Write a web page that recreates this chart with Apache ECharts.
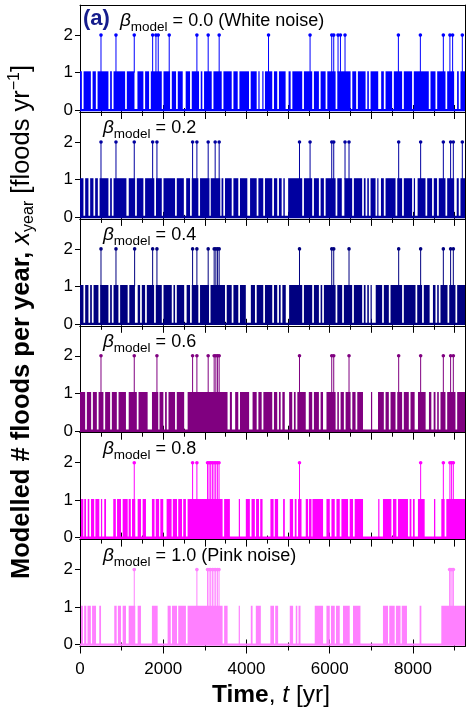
<!DOCTYPE html>
<html>
<head>
<meta charset="utf-8">
<script src="https://cdn.jsdelivr.net/npm/echarts@6/dist/echarts.min.js"></script>
<style>
  html, body { margin: 0; padding: 0; background: #fff; }
  #chart { width: 466px; height: 711px; }
</style>
</head>
<body>
<div id="chart"></div>
<script>
// ---- record length and panel settings ----
const recordEnd = 9250;                        // last simulated year
const betaValues = ['0.0', '0.2', '0.4', '0.6', '0.8', '1.0'];
const panelNotes = [' (White noise)', '', '', '', '', ' (Pink noise)'];
const panelColors = ['#0000ff', '#0000a0', '#000080', '#800080', '#ff00ff', '#ff80ff'];

// ---- tick labels ----
const xTickLabels = [0, 2000, 4000, 6000, 8000];
const xOddThousands = [1000, 3000, 5000, 7000, 9000];
const xThousands = [0, 1000, 2000, 3000, 4000, 5000, 6000, 7000, 8000, 9000];
const xHalves = [500, 1500, 2500, 3500, 4500, 5500, 6500, 7500, 8500];
const yTickLabels = [0, 1, 2];

// ---- beta = 0.0 .. 0.6: year spans without any flood (all other years have one) ----
const gapsB00 = [[45,85],[261,301],[381,421],[683,723],[765,805],[1084,1124],[1309,1379],[1523,1563],[1660,1700],[1965,2005],[2164,2204],[2308,2348],[2468,2538],[2644,2684],[2860,2900],[2939,2979],[3165,3205],[3405,3445],[3645,3685],[3789,3829],[4060,4100],[4245,4285],[4309,4379],[4403,4443],[4619,4659],[4739,4779],[4940,5010],[5061,5101],[5339,5379],[5579,5619],[5740,5780],[5901,5941],[6141,6181],[6501,6541],[6635,6675],[6861,6901],[6940,6980],[7165,7235],[7300,7340],[7499,7539],[7739,7779],[7979,8019],[8380,8420],[8541,8581],[8781,8821],[8989,9059],[9100,9140]];
const gapsB02 = [[83,123],[203,243],[323,363],[429,469],[683,723],[765,805],[1115,1170],[1324,1364],[1523,1563],[1785,1825],[1965,2005],[2284,2324],[2495,2550],[2644,2684],[2843,2883],[3110,3140],[3370,3400],[3443,3483],[3645,3685],[3803,3843],[4020,4085],[4245,4285],[4403,4443],[4619,4659],[4739,4779],[4845,4885],[4920,5000],[5339,5379],[5579,5619],[5740,5780],[5860,5900],[6141,6181],[6290,6350],[6539,6579],[6779,6819],[6861,6901],[6940,6980],[7101,7141],[7170,7230],[7300,7340],[7581,7621],[7739,7779],[7979,8019],[8050,8110],[8301,8341],[8459,8499],[8579,8619],[8781,8821],[8990,9050],[9100,9140]];
const gapsB04 = [[83,123],[203,243],[285,325],[443,483],[683,723],[765,805],[923,963],[1145,1183],[1320,1385],[1444,1484],[1564,1604],[1780,1820],[1965,2005],[2205,2245],[2284,2324],[2503,2561],[2644,2684],[2843,2883],[3100,3135],[3484,3524],[3645,3685],[3803,3843],[3984,4104],[4204,4244],[4403,4443],[4619,4659],[4739,4779],[4821,4861],[4944,5023],[5339,5379],[5579,5619],[5740,5780],[5819,5859],[6141,6181],[6299,6339],[6539,6579],[6779,6819],[6861,6901],[6940,6980],[7001,7104],[7259,7299],[7420,7460],[7739,7779],[8061,8101],[8219,8259],[8400,8479],[8541,8581],[8620,8660],[8830,8870],[9021,9061]];
const gapsB06 = [[124,164],[268,308],[405,445],[563,603],[724,764],[885,925],[1104,1169],[1365,1405],[1625,1728],[1880,1910],[2003,2043],[2085,2125],[2284,2324],[2503,2585],[3545,3600],[3650,3727],[3803,3843],[4063,4145],[4245,4285],[4365,4405],[4619,4659],[4739,4779],[4821,4861],[4920,5023],[5099,5139],[5181,5221],[5424,5496],[5579,5619],[5740,5780],[5839,5921],[6141,6181],[6220,6260],[6340,6380],[6501,6541],[6621,6661],[6799,6990],[7012,7159],[7300,7340],[7420,7460],[7581,7621],[7739,7779],[7900,7940],[8040,8119],[8304,8383],[8441,8496],[8541,8581],[8620,8660],[8781,8821],[9021,9061]];

// ---- beta = 0.8 and 1.0: year spans with floods (all other years have none) ----
const runsB08 = [[24,79],[103,144],[185,223],[264,340],[370,463],[504,528],[583,624],[799,860],[890,984],[1025,1145],[1169,1220],[1250,1327],[1385,1464],[1505,1584],[1728,1790],[1820,1900],[1930,1999],[2081,2200],[2230,2330],[2360,2450],[2480,2544],[2585,3425],[3463,3600],[3815,3835],[3984,4080],[4121,4200],[4230,4300],[4330,4385],[4575,4650],[4680,4759],[4880,4920],[5040,5119],[5160,5201],[5239,5321],[5424,5479],[5503,5561],[5585,5839],[5921,6000],[6041,6120],[6161,6240],[6281,6439],[6480,6559],[6600,6799],[7165,7185],[7279,7481],[7519,7601],[7639,7879],[7920,7961],[7999,8040],[8119,8280],[8505,8535],[8681,8760],[8801,9250]];
const runsB10 = [[24,70],[100,150],[180,260],[290,384],[463,504],[823,880],[910,984],[1025,1104],[1169,1327],[1385,1464],[1728,1865],[2105,2180],[2210,2330],[2360,2544],[2585,3425],[3463,3545],[3813,3833],[4104,4145],[4224,4344],[4574,4660],[4690,4759],[5040,5119],[5184,5220],[5250,5297],[5640,5839],[5921,6000],[6030,6120],[6150,6240],[6319,6480],[6559,6737],[7279,7400],[7430,7560],[7590,7700],[7730,7855],[8160,8200],[8681,9250]];

// ---- years with two floods ----
const twosB00 = [504,864,1303,1745,1824,1879,2143,2808,3079,3343,4529,5527,6048,6096,6199,6257,6367,7649,8177,8729,8887,8952,9185];
const twosB02 = [504,864,1303,1745,1848,2705,2808,3079,3247,3343,5273,5527,6048,6096,6367,6463,7656,8184,8729,8904,8969,9185];
const twosB04 = [504,864,1312,1745,1848,2705,2808,3079,3223,3264,3305,3343,5273,6048,6096,6463,7656,8184,8729,8904,8969];
const twosB06 = [504,1303,1848,2705,2808,3079,3223,3264,3305,3343,5273,6048,6096,6463,7656,8184,8729,8904,8969];
const twosB08 = [1303,2705,2808,3064,3100,3140,3180,3220,3260,3300,3340,5273,8184,8729,8887,8928,8969];
const twosB10 = [1303,2808,3064,3100,3140,3180,3220,3260,3300,3340,8880,8910,8940,8970];

const panelSpans = [gapsB00, gapsB02, gapsB04, gapsB06, runsB08, runsB10];
const spansAreFloods = [false, false, false, false, true, true];
const panelTwos = [twosB00, twosB02, twosB04, twosB06, twosB08, twosB10];

// expand span lists into a year-by-year flood count
function yearlyCounts(spans, floodSpans, twos) {
  const counts = new Array(recordEnd + 1).fill(floodSpans ? 0 : 1);
  spans.forEach(([a, b]) => {
    for (let y = a; y <= Math.min(b, recordEnd); y++) counts[y] = floodSpans ? 1 : 0;
  });
  twos.forEach(y => { counts[y] = 2; });
  return counts;
}

// items for the custom series: [firstYear, lastYear, level]
//   level 0 -> zero line over the record, 1 -> block of flood years, 2 -> year with two floods
function floodItems(counts) {
  const items = [[0, recordEnd, 0]];
  let start = -1;
  for (let y = 0; y <= recordEnd + 1; y++) {
    const on = y <= recordEnd && counts[y] >= 1;
    if (on && start < 0) start = y;
    if (!on && start >= 0) { items.push([start, y - 1, 1]); start = -1; }
  }
  counts.forEach((c, y) => { if (c === 2) items.push([y, y, 2]); });
  return items;
}

function floodRenderer(color) {
  return function (params, api) {
    const a = api.value(0), b = api.value(1), lvl = api.value(2);
    if (lvl === 0) {
      const p0 = api.coord([a, 0]), p1 = api.coord([b + 1, 0]);
      return { type: 'line', shape: { x1: p0[0], y1: p0[1], x2: p1[0], y2: p1[1] },
        style: { stroke: color, lineWidth: 2.4 } };
    }
    if (lvl === 1) {
      const p0 = api.coord([a, 1]), p1 = api.coord([b + 1, 0]);
      const w = Math.max(p1[0] - p0[0], 1.2);
      return { type: 'rect', shape: { x: p0[0], y: p0[1] - 1.3, width: w, height: p1[1] - p0[1] + 1.3 },
        style: { fill: color } };
    }
    const base = api.coord([a + 0.5, 1]), top = api.coord([a + 0.5, 2]);
    return { type: 'group', children: [
      { type: 'line', shape: { x1: base[0], y1: base[1], x2: top[0], y2: top[1] },
        style: { stroke: color, lineWidth: 1 } },
      { type: 'circle', shape: { cx: top[0], cy: top[1], r: 1.8 }, style: { fill: color } }
    ] };
  };
}

// ---- layout ----
const plotLeft = 80, plotRight = 1, firstTop = 5.1, panelHeight = 106.9;
const yMin = -0.05, yMax = 2.8;
const textFont = 'Liberation Sans, Arial, sans-serif';
const lastPanel = panelColors.length - 1;

const grids = [], xAxes = [], yAxes = [], series = [], graphics = [];

panelColors.forEach((color, k) => {
  const top = firstTop + k * panelHeight;
  grids.push({ left: plotLeft, right: plotRight, top: top, height: panelHeight, outerBoundsMode: 'none' });

  const xBase = {
    type: 'value', gridIndex: k, min: 0, max: recordEnd,
    splitLine: { show: false }, axisLabel: { show: false },
    axisLine: { show: false, onZero: false }, axisTick: { show: false }
  };
  const longTicks = k === lastPanel ? xTickLabels : xThousands;
  const shortTicks = k === lastPanel ? xOddThousands : xHalves;
  const tick = (inside, length, values) => ({
    show: true, inside: inside, length: length, customValues: values,
    lineStyle: { color: '#000', width: 1 }
  });

  const xIndex = xAxes.length;
  // frame bottom + inward long ticks
  xAxes.push(Object.assign({}, xBase, {
    position: 'bottom',
    axisLine: { show: true, onZero: false, lineStyle: { color: '#000', width: 1 } },
    axisTick: tick(true, 7, longTicks)
  }));
  xAxes.push(Object.assign({}, xBase, { position: 'bottom', axisTick: tick(true, 4, shortTicks) }));
  // outward long ticks (labels on the lowest panel)
  xAxes.push(Object.assign({}, xBase, {
    position: 'bottom',
    axisTick: tick(false, 7, longTicks),
    axisLabel: {
      show: k === lastPanel, customValues: xTickLabels, margin: 14,
      fontSize: 17, color: '#000', fontFamily: textFont,
      formatter: v => String(v)
    }
  }));
  xAxes.push(Object.assign({}, xBase, { position: 'bottom', axisTick: tick(false, 4, shortTicks) }));
  // frame top
  xAxes.push(Object.assign({}, xBase, {
    position: 'top',
    axisLine: { show: true, onZero: false, lineStyle: { color: '#000', width: 1 } }
  }));

  const yIndex = yAxes.length;
  yAxes.push({
    type: 'value', gridIndex: k, min: yMin, max: yMax, position: 'left',
    splitLine: { show: false },
    axisLine: { show: true, onZero: false, lineStyle: { color: '#000', width: 1 } },
    axisTick: { show: true, inside: false, length: 5, customValues: yTickLabels, lineStyle: { color: '#000' } },
    axisLabel: { customValues: yTickLabels, fontSize: 17, color: '#000', margin: 7, fontFamily: textFont }
  });
  yAxes.push({
    type: 'value', gridIndex: k, min: yMin, max: yMax, position: 'right',
    splitLine: { show: false }, axisLabel: { show: false }, axisTick: { show: false },
    axisLine: { show: true, onZero: false, lineStyle: { color: '#000', width: 1 } }
  });

  const counts = yearlyCounts(panelSpans[k], spansAreFloods[k], panelTwos[k]);
  series.push({
    type: 'custom', xAxisIndex: xIndex, yAxisIndex: yIndex,
    dimensions: ['start', 'end', 'level'],
    encode: { x: [0, 1], y: 2 },
    data: floodItems(counts),
    renderItem: floodRenderer(color),
    clip: true, silent: true, z: 2
  });

  // panel caption
  const label = '{g|β}{s|model}{n| = ' + betaValues[k] + panelNotes[k] + '}';
  graphics.push({
    type: 'text', x: k === 0 ? 120 : 103, y: top + 16, z: 10,
    style: {
      text: label, align: 'left', verticalAlign: 'middle', fill: '#000',
      rich: {
        g: { fontSize: 19, fontStyle: 'italic', fontFamily: textFont, lineHeight: 27, fill: '#000' },
        s: { fontSize: 13.5, fontFamily: textFont, lineHeight: 13, verticalAlign: 'bottom', fill: '#000' },
        n: { fontSize: 18, fontFamily: textFont, lineHeight: 27, fill: '#000' }
      }
    }
  });
});

graphics.push({
  type: 'text', x: 83, y: firstTop + 14, z: 10,
  style: { text: '(a)', align: 'left', verticalAlign: 'middle', fill: '#151c8c',
    fontSize: 22, fontWeight: 'bold', fontFamily: textFont }
});

// axis titles
graphics.push({
  type: 'text', x: 271, y: 695, z: 10,
  style: {
    text: '{b|Time}{n|, }{i|t}{n| [yr]}', align: 'center', verticalAlign: 'middle',
    rich: {
      b: { fontSize: 24.5, fontWeight: 'bold', fontFamily: textFont, lineHeight: 28, fill: '#000' },
      i: { fontSize: 24.5, fontStyle: 'italic', fontFamily: textFont, lineHeight: 28, fill: '#000' },
      n: { fontSize: 24.5, fontFamily: textFont, lineHeight: 28, fill: '#000' }
    }
  }
});
graphics.push({
  type: 'text', x: 22, y: 322, rotation: Math.PI / 2, z: 10,
  style: {
    text: '{b|Modelled # floods per year, }{i|x}{sb|year}{n| [floods yr}{sp|−1}{n|]}',
    align: 'center', verticalAlign: 'middle',
    rich: {
      b: { fontSize: 25.5, fontWeight: 'bold', fontFamily: textFont, lineHeight: 30, fill: '#000' },
      i: { fontSize: 25.5, fontStyle: 'italic', fontFamily: textFont, lineHeight: 30, fill: '#000' },
      sb: { fontSize: 16, fontFamily: textFont, lineHeight: 16, verticalAlign: 'bottom', fill: '#000' },
      sp: { fontSize: 16, fontFamily: textFont, lineHeight: 16, verticalAlign: 'top', fill: '#000' },
      n: { fontSize: 25.5, fontFamily: textFont, lineHeight: 30, fill: '#000' }
    }
  }
});

const chart = echarts.init(document.getElementById('chart'), null, { renderer: 'canvas' });
chart.setOption({
  animation: false,
  backgroundColor: '#fff',
  grid: grids,
  xAxis: xAxes,
  yAxis: yAxes,
  series: series,
  graphic: graphics
});
</script>
</body>
</html>
